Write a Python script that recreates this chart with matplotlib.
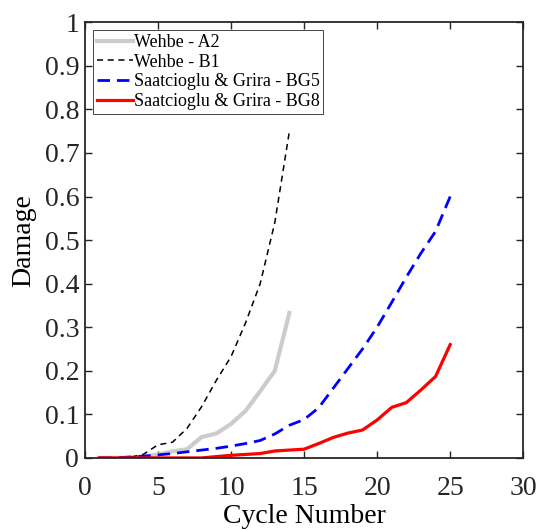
import matplotlib
matplotlib.use("Agg")
import matplotlib.pyplot as plt

plt.rcParams['font.family'] = ['Liberation Serif', 'DejaVu Serif']
plt.rcParams['mathtext.fontset'] = 'stix'

cycles_a = list(range(1, 15))
wehbe_a2 = [0, 0, 0, 0.002, 0.008, 0.015, 0.02, 0.048, 0.056, 0.078, 0.108, 0.153, 0.2, 0.333]
wehbe_b1 = [0, 0, 0.001, 0.008, 0.03, 0.036, 0.068, 0.118, 0.178, 0.232, 0.31, 0.40, 0.54, 0.75]

cycles_b = list(range(1, 26))
sg_bg5 = [0, 0, 0.002, 0.004, 0.007, 0.01, 0.014, 0.018, 0.022, 0.027, 0.033, 0.04, 0.055,
          0.075, 0.088, 0.115, 0.16, 0.205, 0.25, 0.30, 0.357, 0.415, 0.47, 0.52, 0.60]
sg_bg8 = [0, 0, 0, 0, 0, 0, 0, 0, 0.003, 0.006, 0.008, 0.01, 0.016, 0.018, 0.02, 0.033,
          0.047, 0.057, 0.064, 0.087, 0.116, 0.127, 0.156, 0.187, 0.26]

labels = ['Wehbe - A2', 'Wehbe - B1', 'Saatcioglu & Grira - BG5', 'Saatcioglu & Grira - BG8']
x_ticks = [0, 5, 10, 15, 20, 25, 30]
y_ticks = [0, 0.1, 0.2, 0.3, 0.4, 0.5, 0.6, 0.7, 0.8, 0.9, 1]
y_ticklabels = ['0', '0.1', '0.2', '0.3', '0.4', '0.5', '0.6', '0.7', '0.8', '0.9', '1']

fig = plt.figure(figsize=(5.4, 5.3), dpi=100)
ax = fig.add_axes([0.157, 0.136, 0.812, 0.822])

ax.plot(cycles_a, wehbe_a2, color='#cccccc', lw=3.0, label=labels[0])
ax.plot(cycles_a, wehbe_b1, color='black', lw=1.1, ls=(0, (4, 3)), label=labels[1])
ax.plot(cycles_b, sg_bg5, color='blue', lw=2.0, ls=(0, (4.5, 2.5)), label=labels[2])
ax.plot(cycles_b, sg_bg8, color='red', lw=2.3, label=labels[3])

ax.set_xlim(0, 30)
ax.set_ylim(0, 1)
ax.set_xticks(x_ticks)
ax.set_yticks(y_ticks)
ax.set_yticklabels(y_ticklabels)
ax.tick_params(direction='in', top=True, right=True, labelsize=20, length=5, width=1,
               colors='#262626')
ax.tick_params(axis='y', pad=4)
ax.tick_params(axis='x', pad=13)
for s in ax.spines.values():
    s.set_linewidth(1.3)
    s.set_color('#262626')

ax.set_xlabel('Cycle Number', fontsize=20, labelpad=2)
ax.set_ylabel('Damage', fontsize=20, labelpad=6)

leg = ax.legend(loc='upper left', fontsize=13, frameon=True, fancybox=False,
                framealpha=1, edgecolor='#262626', borderaxespad=0.45,
                handlelength=2.0, handletextpad=0.05, labelspacing=0.15,
                borderpad=0.2)
leg.get_frame().set_linewidth(0.6)

fig.savefig('out.png', dpi=100)
